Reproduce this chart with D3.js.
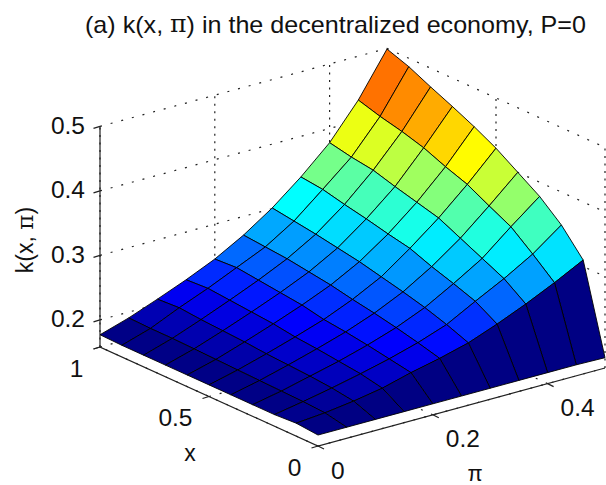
<!DOCTYPE html>
<html><head><meta charset="utf-8">
<style>html,body{margin:0;padding:0;background:#fff}svg{display:block}text{font-family:"Liberation Sans",Arial,sans-serif;fill:#111}tspan.pi{font-family:"DejaVu Serif",serif}</style>
<script src="https://cdn.jsdelivr.net/npm/d3@7"></script></head><body>
<script>
const xValues=[0,.1,.2,.3,.4,.5,.6,.7,.8,.9,1];
const piValues=[0,.05,.1,.15,.2,.25,.3,.35,.4,.45,.5];
const kValues=[
[.175,.175,.175,.175,.175,.175,.175,.175,.175,.175,.174],
[.178,.182,.188,.196,.208,.218,.230,.247,.266,.287,.310],
[.176,.184,.193,.203,.214,.227,.243,.267,.290,.316,.349],
[.176,.185,.196,.207,.220,.235,.254,.279,.306,.343,.378],
[.176,.186,.198,.211,.225,.242,.263,.290,.322,.360,.400],
[.176,.187,.200,.214,.229,.248,.271,.303,.338,.378,.422],
[.176,.188,.203,.219,.236,.255,.279,.310,.347,.390,.440],
[.176,.189,.205,.222,.240,.260,.285,.318,.356,.404,.456],
[.176,.190,.207,.225,.244,.265,.291,.325,.366,.414,.471],
[.176,.190,.210,.228,.248,.268,.296,.333,.371,.422,.487],
[.177,.191,.208,.226,.246,.271,.301,.337,.378,.432,.499]];
const xTicks=[0,.5,1], piTicks=[0,.2,.4], kTicks=[.2,.3,.4,.5];
const xTickText=["0","0.5","1"], piTickText=["0","0.2","0.4"], kTickText=["0.2","0.3","0.4","0.5"];
const titleBefore="(a) k(x, ", titleSymbol="π", titleAfter=") in the decentralized economy, P=0";
const kMin=.158,kMax=.5,piMax=.5;

const W=606,H=485;
const svg=d3.select("body").append("svg").attr("width",W).attr("height",H);
// oblique orthographic projection built from linear scales
const xToH=d3.scaleLinear().domain([0,1]).range([0,-218]);
const xToV=d3.scaleLinear().domain([0,1]).range([0,-99]);
const piToH=d3.scaleLinear().domain([0,piMax]).range([318,605]);
const piToV=d3.scaleLinear().domain([0,piMax]).range([446,368]);
const kToV=d3.scaleLinear().domain([kMin,kMax]).range([0,-220.6]);
const P=(x,pi,k)=>[xToH(x)+piToH(pi),xToV(x)+piToV(pi)+kToV(k)];
const line=d3.line();
const jet=d3.scaleLinear().domain([0,.125,.375,.625,.875,1])
  .range(["#000080","#0000ff","#00ffff","#ffff00","#ff0000","#800000"]).interpolate(d3.interpolateRgb);
const kExtent=d3.extent(kValues.flat());
const tScale=d3.scaleLinear().domain(kExtent).range([0,1]);

// dotted grid on floor and back walls
const grid=svg.append("g").attr("fill","none").attr("stroke","#222").attr("stroke-width",1.2);
const dotted=(pts,dash)=>grid.append("path").attr("d",line(pts)).attr("stroke-dasharray",dash);
const obl="2 9", ver="2 5.5";
kTicks.forEach(k=>{dotted([P(1,0,k),P(1,piMax,k)],obl);dotted([P(1,piMax,k),P(0,piMax,k)],obl);});
piTicks.forEach(p=>{dotted([P(1,p,kMin),P(1,p,kMax)],ver);dotted([P(0,p,kMin),P(1,p,kMin)],obl);});
xTicks.forEach(x=>{dotted([P(x,piMax,kMin),P(x,piMax,kMax)],ver);dotted([P(x,0,kMin),P(x,piMax,kMin)],obl);});

// solid box edges and ticks
const axes=svg.append("g").attr("fill","none").attr("stroke","#222").attr("stroke-width",1.2);
axes.append("path").attr("d",line([P(1,0,kMax),P(1,0,kMin),P(0,0,kMin),P(0,piMax,kMin)]));
kTicks.concat([kMin]).forEach(k=>{const a=P(1,0,k);axes.append("path").attr("d",line([a,[a[0]-6.5,a[1]+2]]));});
xTicks.forEach(x=>{const a=P(x,0,kMin);axes.append("path").attr("d",line([a,[a[0]-6.5,a[1]+2]]));});
piTicks.forEach(p=>{const a=P(0,p,kMin);axes.append("path").attr("d",line([a,[a[0]+6,a[1]+3]]));});

// surface: painted back to front, each face coloured by its lowest-index corner
const surf=svg.append("g").attr("stroke","#000").attr("stroke-width",.9).attr("stroke-linejoin","round");
for(let i=xValues.length-2;i>=0;i--){
  for(let j=piValues.length-2;j>=0;j--){
    const c=[[i,j],[i+1,j],[i+1,j+1],[i,j+1]].map(([a,b])=>P(xValues[a],piValues[b],kValues[a][b]));
    surf.append("path").attr("d",line(c)+"Z").attr("fill",jet(tScale(kValues[i][j])));
  }
}

// text
const label=(x,y,s,size,anchor)=>svg.append("text").attr("x",x).attr("y",y).attr("font-size",size)
  .attr("text-anchor",anchor||"middle").attr("dominant-baseline","central").text(s);
const title=svg.append("text").attr("x",85).attr("y",24).attr("font-size",24)
  .attr("dominant-baseline","central").attr("textLength",501).attr("lengthAdjust","spacingAndGlyphs");
title.append("tspan").text(titleBefore);
title.append("tspan").attr("class","pi").text(titleSymbol);
title.append("tspan").text(titleAfter);
kTicks.forEach((k,n)=>label(85,P(1,0,k)[1]-1,kTickText[n],24.5,"end"));
xTicks.forEach((x,n)=>{const a=P(x,0,kMin);label(a[0]-16.5,a[1]+21,xTickText[n],24.5,"end");});
piTicks.forEach((p,n)=>{const a=P(0,p,kMin);label(a[0]+13,a[1]+24,piTickText[n],24.5,"start");});
label(190,453,"x",23);
svg.append("text").attr("x",475).attr("y",473).attr("font-size",22).attr("text-anchor","middle")
  .attr("dominant-baseline","central").attr("font-family","'DejaVu Serif',serif").text("π");
const yLab=svg.append("text").attr("transform","translate(25,240) rotate(-90)").attr("font-size",23)
  .attr("text-anchor","middle").attr("dominant-baseline","central");
yLab.append("tspan").text("k(x, ");
yLab.append("tspan").attr("class","pi").text("π");
yLab.append("tspan").text(")");
</script></body></html>
